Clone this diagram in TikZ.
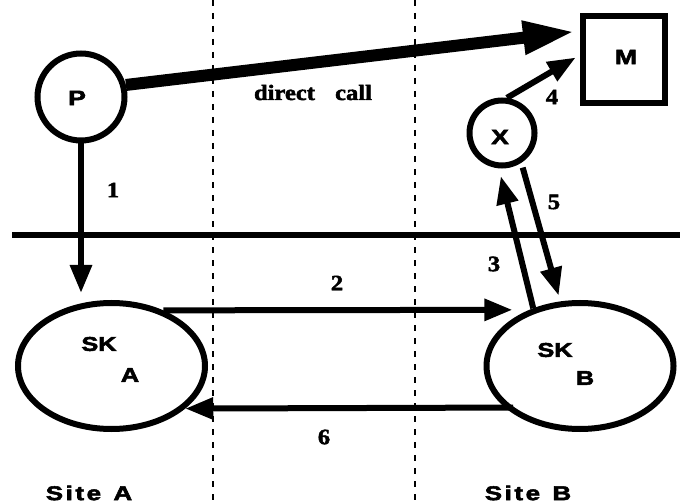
\documentclass[tikz,border=0pt]{standalone}
\usepackage{fontspec}
\setmainfont{Liberation Serif}
\newfontfamily\heavysf{Liberation Sans Bold}[FakeBold=2.5]
\newfontfamily\heavyserif{Liberation Serif Bold}[FakeBold=2]
\newfontfamily\sitefont{Liberation Sans Bold}[LetterSpace=10, FakeBold=2.5]
\usetikzlibrary{arrows.meta,shapes.geometric}

% horizontally widened labels
\newcommand\widesf[1]{\scalebox{1.27}[1]{\heavysf #1}}
\newcommand\wideserif[1]{\scalebox{1.12}[1]{\heavyserif #1}}

\tikzset{
  solid line/.style={line width=6bp},
  proc/.style={draw, circle, line width=6bp, inner sep=0pt},
  kernel/.style={draw, ellipse, line width=6bp, inner sep=0pt,
    minimum width=187bp, minimum height=126bp},
  flow/.style={line width=6bp, -{Triangle[length=28bp,width=21bp]}},
  bigflow/.style={line width=12bp, -{Triangle[length=52bp,width=31bp]}},
  sitesep/.style={line width=2.4bp, dash pattern=on 6bp off 7bp},
  sflab/.style={inner sep=0pt, font=\fontsize{20}{22}\selectfont},
  numlab/.style={inner sep=0pt, font=\fontsize{22}{24}\selectfont},
}

\begin{document}
\begin{tikzpicture}[x=1bp, y=-1bp]
  \useasboundingbox (0,0) rectangle (680,504);
  \fill[white] (0,0) rectangle (680,504);

  % site boundaries and the line between the two levels
  \draw[sitesep] (213,0) -- (213,504);
  \draw[sitesep] (415,0) -- (415,504);
  \draw[solid line] (12,235) -- (680,235);

  % processes, module and kernels
  \node[proc, minimum size=87bp] (P) at (81,97) {};
  \node[proc, minimum size=65bp] (X) at (502,133) {};
  \node[draw, line width=6bp, minimum width=82bp, minimum height=87bp,
        inner sep=0pt] (M) at (624,59.5) {};
  \node[kernel] (SKA) at (111.5,366) {};
  \node[kernel] (SKB) at (580,366) {};

  \node[sflab, font=\fontsize{21}{22}\selectfont] (Plab) at (77,98) {\widesf{P}};
  \node[sflab, font=\fontsize{21}{22}\selectfont] (Xlab) at (500,137) {\widesf{X}};
  \node[sflab, font=\fontsize{21}{22}\selectfont] (Mlab) at (626,57) {\widesf{M}};
  \node[sflab] (SKAlab) at (99,344) {\widesf{SK}};
  \node[sflab] (SKAsub) at (130,375) {\widesf{A}};
  \node[sflab] (SKBlab) at (555,350) {\widesf{SK}};
  \node[sflab] (SKBsub) at (585,378) {\widesf{B}};

  % direct call from P to M
  \draw[bigflow, shorten >=5bp] (P.15) -- ([yshift=-18bp]M.north west);
  \node[numlab] (direct) at (313,92.5) {\wideserif{direct\hspace{18bp}call}};

  % numbered steps
  \draw[flow, shorten >=7bp] (P.south) -- (P.south |- SKA.north);
  \draw[flow, shorten >=17bp] (SKA.47.7) -- (SKB.132.3);
  \draw[flow, shorten >=8bp] (SKB.129) -- (X.265);
  \draw[flow, shorten >=5bp] (X.82) -- ([yshift=4.5bp]M.west);
  \draw[flow, shorten <=5bp, shorten >=6bp] (X.303) -- (SKB.107);
  \draw[flow, shorten <=-8bp] (SKB.209.6) -- (SKA.330.4);

  \node[numlab] (n1) at (113,190) {\wideserif{1}};
  \node[numlab] (n2) at (337,283) {\wideserif{2}};
  \node[numlab] (n3) at (494,264) {\wideserif{3}};
  \node[numlab] (n4) at (552,97) {\wideserif{4}};
  \node[numlab] (n5) at (554,202) {\wideserif{5}};
  \node[numlab] (n6) at (324,437) {\wideserif{6}};

  % site names
  \node[sflab] (siteA) at (89,493) {\scalebox{1.3}[1]{\sitefont Site\hspace{2bp} A}};
  \node[sflab] (siteB) at (528,493) {\scalebox{1.3}[1]{\sitefont Site\hspace{2bp} B}};
\end{tikzpicture}
\end{document}
